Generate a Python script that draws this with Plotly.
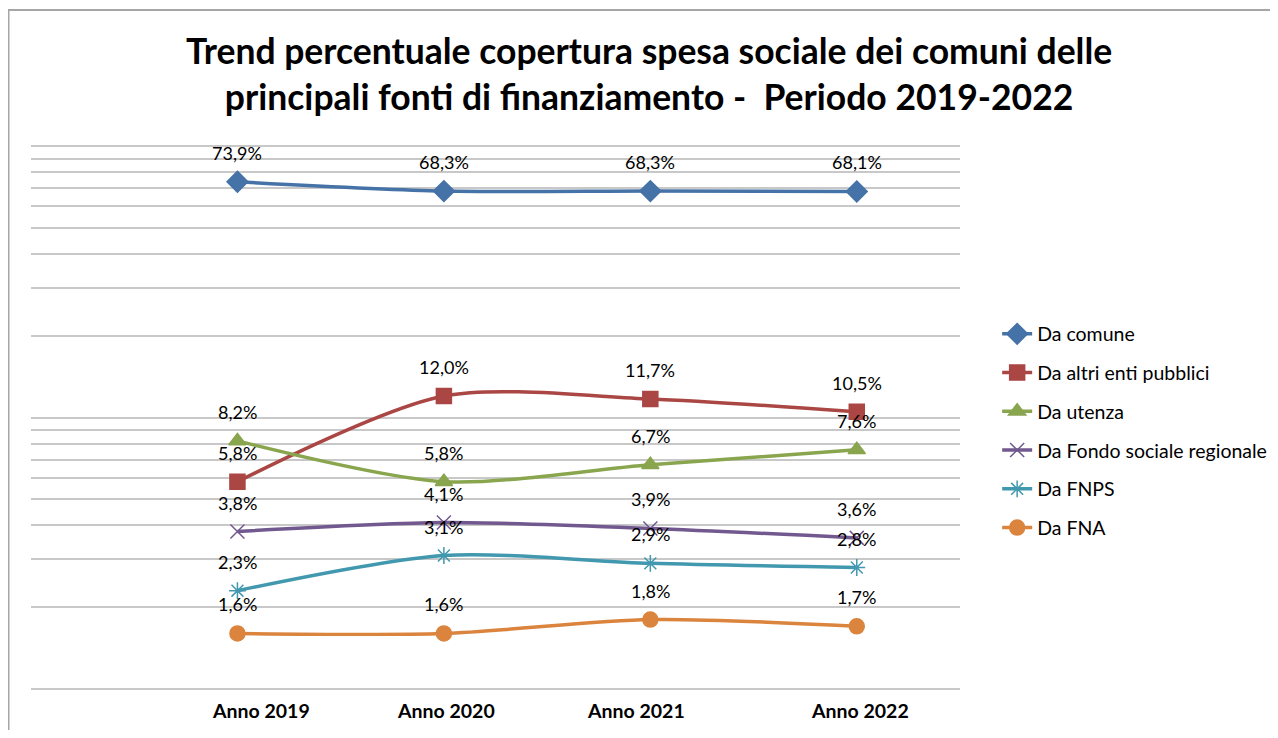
import math

import plotly.graph_objects as go

# Chart data (percent values)
anni = ["Anno 2019", "Anno 2020", "Anno 2021", "Anno 2022"]
da_comune = [73.9, 68.3, 68.3, 68.1]
da_altri_enti = [5.8, 12.0, 11.7, 10.5]
da_utenza = [8.2, 5.8, 6.7, 7.6]
da_fondo_regionale = [3.8, 4.1, 3.9, 3.6]
da_fnps = [2.3, 3.1, 2.9, 2.8]
da_fna = [1.6, 1.6, 1.8, 1.7]

series = [
    ("Da comune", da_comune, "#4572A7", "diamond", 16),
    ("Da altri enti pubblici", da_altri_enti, "#AA4643", "square", 15),
    ("Da utenza", da_utenza, "#89A54E", "triangle-up", 15),
    ("Da Fondo sociale regionale", da_fondo_regionale, "#71588F", "x-thin-open", 14),
    ("Da FNPS", da_fnps, "#4198AF", "asterisk-open", 14),
    ("Da FNA", da_fna, "#DB843D", "circle", 15),
]

FONT = "Lato, 'Open Sans', sans-serif"

grid_vals = [1, 2, 3, 4, 5, 6, 7, 8, 9, 10, 20, 30, 40, 50, 60, 70, 80, 90, 100]
# the category labels in the original are not quite centred under the points
label_shift = [24, 2, -14, 3]

fig = go.Figure()
for i, (name, vals, color, symbol, size) in enumerate(series):
    fig.add_trace(go.Scatter(
        x=anni, y=vals, name=name, legendgroup=f"g{i}",
        mode="lines+markers",
        line=dict(color=color, width=3.5, shape="spline", smoothing=0.8),
        marker=dict(symbol=symbol, size=size, color=color,
                    line=dict(color=color, width=1.5)),
        hoverinfo="x+y+name",
    ))
    # data labels sit a fixed distance above each point (log axis -> log10)
    for x, v in zip(anni, vals):
        fig.add_annotation(
            x=x, y=math.log10(v), xref="x", yref="y", showarrow=False,
            text=f"{v:.1f}%".replace(".", ","), yshift=29,
            font=dict(family=FONT, size=18, color="#000000"),
        )

for x, dx in zip(anni, label_shift):
    fig.add_annotation(
        x=x, y=0, xref="x", yref="paper", yanchor="middle", showarrow=False,
        text=f"<b>{x}</b>", xshift=dx, yshift=-19,
        font=dict(family=FONT, size=19.5, color="#000000"),
    )

# page body has an 8px margin: keep the figure inside the 1278x738 window
fig.update_layout(
    width=1262, height=722,
    paper_bgcolor="white", plot_bgcolor="white",
    margin=dict(l=23, r=310, t=136, b=39, autoexpand=False),
    showlegend=True,
    title=dict(
        text="<b>Trend percentuale copertura spesa sociale dei comuni delle<br>"
             "principali fonti di finanziamento -  Periodo 2019-2022</b>",
        x=0.508, xanchor="center", y=0.923, yanchor="top",
        font=dict(family=FONT, size=35.5, color="#000000"),
    ),
    legend=dict(
        x=1.040, y=0.688, xanchor="left", yanchor="top",
        font=dict(family=FONT, size=19.5, color="#000000"),
        tracegroupgap=10.4, bgcolor="rgba(0,0,0,0)",
    ),
    xaxis=dict(
        type="category", range=[-1, 3.5],
        showgrid=False, showline=False, zeroline=False,
        ticks="", showticklabels=False,
    ),
    yaxis=dict(
        type="log", range=[-0.008, 2.008],
        tickmode="array", tickvals=grid_vals, showticklabels=False,
        showgrid=True, gridcolor="#C8C8C8", gridwidth=1.5,
        zeroline=False, showline=False, ticks="",
    ),
    shapes=[
        dict(type="rect", xref="paper", yref="paper",
             x0=(0.5 - 23) / 929, x1=1.5, y0=-0.2, y1=(683 - 2) / 547,
             line=dict(color="#A6A6A6", width=2), fillcolor="rgba(0,0,0,0)",
             layer="below"),
    ],
)

fig.write_html("out.html")
